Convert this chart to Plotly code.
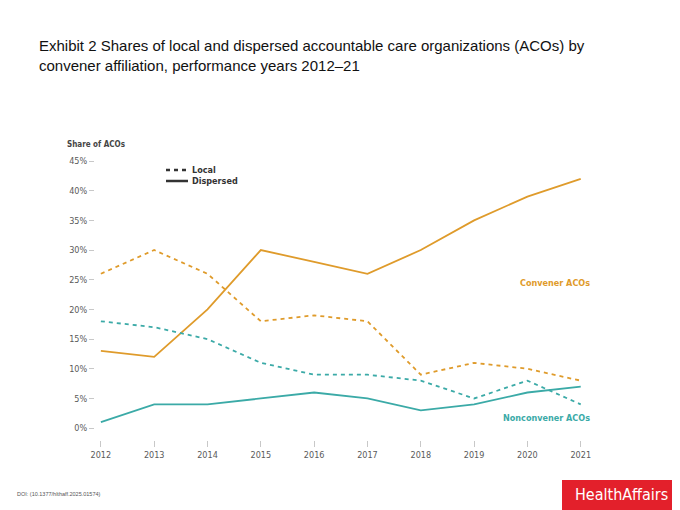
import plotly.graph_objects as go

# data (percent of ACOs)
years = [2012, 2013, 2014, 2015, 2016, 2017, 2018, 2019, 2020, 2021]
convener_local = [26, 30, 26, 18, 19, 18, 9, 11, 10, 8]
convener_dispersed = [13, 12, 20, 30, 28, 26, 30, 35, 39, 42]
nonconvener_local = [18, 17, 15, 11, 9, 9, 8, 5, 8, 4]
nonconvener_dispersed = [1, 4, 4, 5, 6, 5, 3, 4, 6, 7]
y_ticks = [0, 5, 10, 15, 20, 25, 30, 35, 40, 45]

ORANGE = "#DF9B2B"
TEAL = "#3BAAA7"
GREY = "#5a5a5a"
FONT = "Liberation Sans Narrow, DejaVu Sans Condensed, Arial"

# page has an 8px body margin, so work in figure pixels = screen pixels - 8
OFF = 8
L, R, T, B = 87, 577, 153, 432


def px(x):
    return (x - OFF - L) / (R - L)


def py(y):
    return (B - (y - OFF)) / (B - T)


fig = go.Figure()

series = [
    (convener_local, ORANGE, "4px,4px"),
    (convener_dispersed, ORANGE, "solid"),
    (nonconvener_local, TEAL, "4px,4px"),
    (nonconvener_dispersed, TEAL, "solid"),
]
for vals, col, dash in series:
    fig.add_trace(go.Scatter(
        x=years, y=vals, mode="lines",
        line=dict(color=col, width=1.8, dash=dash),
        showlegend=False, hoverinfo="skip",
    ))

fig.update_xaxes(
    range=[2011.89, 2021.08], tickvals=years, showgrid=False, zeroline=False,
    showline=False, ticks="outside", ticklen=6, tickcolor="#c8c8c8",
    tickfont=dict(family=FONT, size=9, color=GREY),
)
fig.update_yaxes(
    range=[-2, 45], tickvals=y_ticks, ticktext=[f"{v}%" for v in y_ticks],
    showgrid=False, zeroline=False, showline=False,
    ticks="outside", ticklen=5, tickcolor="#c8c8c8",
    tickfont=dict(family=FONT, size=9, color=GREY),
)


def note(x, y, text, size, color, anchor="left", family=FONT, align="left"):
    return dict(xref="paper", yref="paper", x=px(x), y=py(y), xanchor=anchor, yanchor="middle",
                text=text, showarrow=False, align=align,
                font=dict(family=family, size=size, color=color))


ann = [
    note(37, 56, "Exhibit 2 Shares of local and dispersed accountable care organizations (ACOs) by<br>"
                 "convener affiliation, performance years 2012–21", 15, "#111111",
         family="Liberation Sans, Arial"),
    note(65, 144, "<b>Share of ACOs</b>", 8, "#444444"),
    note(190, 170, "<b>Local</b>", 9, "#333333"),
    note(190, 181, "<b>Dispersed</b>", 9, "#333333"),
    note(592, 283, "<b>Convener ACOs</b>", 9, ORANGE, anchor="right"),
    note(592, 418, "<b>Nonconvener ACOs</b>", 9, TEAL, anchor="right"),
    note(15, 494, "DOI: (10.1377/hlthaff.2025.01574)", 5.5, "#555555", family="Liberation Sans, Arial"),
    note(621, 494, "HealthAffairs", 16, "white", anchor="center"),
]

shapes = [
    dict(type="line", xref="paper", yref="paper", x0=px(166), x1=px(188),
         y0=py(170), y1=py(170), line=dict(color="#333333", width=2.5, dash="4px,4px")),
    dict(type="line", xref="paper", yref="paper", x0=px(166), x1=px(188),
         y0=py(181), y1=py(181), line=dict(color="#333333", width=2.5)),
    dict(type="rect", xref="paper", yref="paper", x0=px(562), x1=px(690), y0=py(520), y1=py(480),
         fillcolor="#E3202B", line=dict(width=0), layer="below"),
]

fig.update_layout(
    width=680, height=510,
    margin=dict(l=L, r=680 - R, t=T, b=510 - B, autoexpand=False),
    paper_bgcolor="white", plot_bgcolor="white",
    annotations=ann, shapes=shapes,
)

fig.write_html("out.html")
